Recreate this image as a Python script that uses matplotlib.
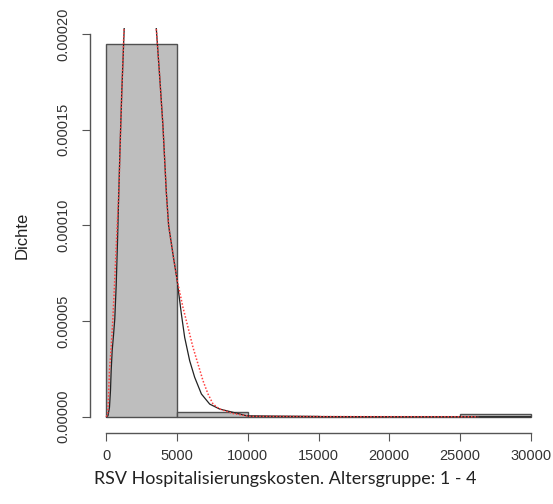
"""Histogram of RSV hospitalisation costs with two fitted density curves."""

import matplotlib
matplotlib.use("Agg")
import matplotlib.pyplot as plt
import numpy as np

# histogram bins (density)
bin_edges = [0, 5000, 10000, 15000, 20000, 25000, 30000]
bin_density = [1.95e-4, 2.6e-6, 5e-7, 0.0, 0.0, 1.3e-6]

# black solid curve
black_x = [0, 14, 106, 213, 284, 333, 404, 496, 589, 688, 780, 872, 972, 1085, 1255, 1400,
           3350, 3525, 3759, 3993, 4234, 4397, 4752, 4986, 5298, 5532, 5886, 6241, 6716,
           7305, 8014, 8957, 9908, 12000, 15000, 20000, 30000]
black_y = [0, 0, 5e-7, 4.9e-6, 1.36e-5, 2.41e-5, 3.46e-5, 4.24e-5, 5.12e-5, 6.86e-5, 9.13e-5,
           1.174e-4, 1.436e-4, 1.70e-4, 2.03e-4, 2.2e-4,
           2.2e-4, 2.03e-4, 1.785e-4, 1.524e-4, 1.174e-4, 1.0e-4, 8.27e-5, 7.2e-5, 5.38e-5,
           4.15e-5, 2.93e-5, 2.06e-5, 1.19e-5, 6.6e-6, 4.0e-6, 2.3e-6, 5e-7, 3e-7, 1e-7,
           3e-8, 0]

# red dotted curve
red_x = [0, 92, 142, 213, 333, 447, 567, 709, 872, 1085, 1241, 1400,
         3350, 3525, 3759, 3993, 4234, 4397, 4752, 4986, 5411, 5766, 6120, 6475, 6830,
         7184, 7539, 8014, 8957, 10141, 12000, 16000, 26300]
red_y = [0, 2.1e-6, 1.01e-5, 2.41e-5, 3.63e-5, 5.03e-5, 6.86e-5, 9.2e-5, 1.174e-4, 1.70e-4,
         2.03e-4, 2.2e-4,
         2.2e-4, 2.03e-4, 1.785e-4, 1.524e-4, 1.174e-4, 1.0e-4, 8.27e-5, 7.2e-5, 5.72e-5,
         4.68e-5, 3.63e-5, 2.76e-5, 1.88e-5, 1.19e-5, 6.6e-6, 4.0e-6, 1.7e-6, 2e-7, 2e-7,
         5e-8, 0]

x_ticks = [0, 5000, 10000, 15000, 20000, 25000, 30000]
y_ticks = [0, 0.00005, 0.0001, 0.00015, 0.0002]

axis_col = "#555555"
text_col = "#333333"

fig = plt.figure(figsize=(5.53, 5.04), dpi=100)
W, H = 553, 504
ax = fig.add_axes([89.5 / W, (H - 433) / H, (547.5 - 89.5) / W, (433 - 28.3) / H])

widths = np.diff(bin_edges)
ax.bar(bin_edges[:-1], bin_density, width=widths, align="edge",
       color="#bebebe", edgecolor="#505050", linewidth=1.0, zorder=1)

ax.plot(black_x, black_y, color="#222222", linewidth=0.9, zorder=2)
ax.plot(red_x, red_y, color="#ff4040", linewidth=1.1, linestyle=(0, (1, 1.2)), zorder=3)

ax.set_xlim(-1200, 31200)
ax.set_ylim(-8.5e-6, 2.031e-4)

for s in ["top", "right", "bottom", "left"]:
    ax.spines[s].set_visible(False)

# R style axis lines spanning only the tick range
ax.plot([0, 30000], [-8.5e-6, -8.5e-6], color=axis_col, linewidth=1.0, clip_on=False, zorder=4)
ax.plot([-1200, -1200], [0, 0.0002], color=axis_col, linewidth=1.0, clip_on=False, zorder=4)

ax.set_xticks(x_ticks)
ax.set_xticklabels([str(v) for v in x_ticks])
ax.set_yticks(y_ticks)
ax.set_yticklabels(["%.5f" % v for v in y_ticks], rotation=90, va="center")

ax.tick_params(axis="both", direction="out", length=5.8, width=0.8, color=axis_col,
               labelcolor=text_col, labelsize=10.5)
ax.tick_params(axis="x", pad=6)
ax.tick_params(axis="y", pad=8)
for lab in ax.get_xticklabels() + ax.get_yticklabels():
    lab.set_family("Liberation Sans")

fig.text(285 / W, 1 - 479 / H, "RSV Hospitalisierungskosten. Altersgruppe: 1 - 4",
         ha="center", va="center", fontsize=12.9, family="Lato", color="#222222")
fig.text(22 / W, 1 - 235 / H, "Dichte", ha="center", va="center", rotation=90,
         fontsize=12, family="Liberation Sans", color="#222222")

fig.savefig("out.png", dpi=100)
